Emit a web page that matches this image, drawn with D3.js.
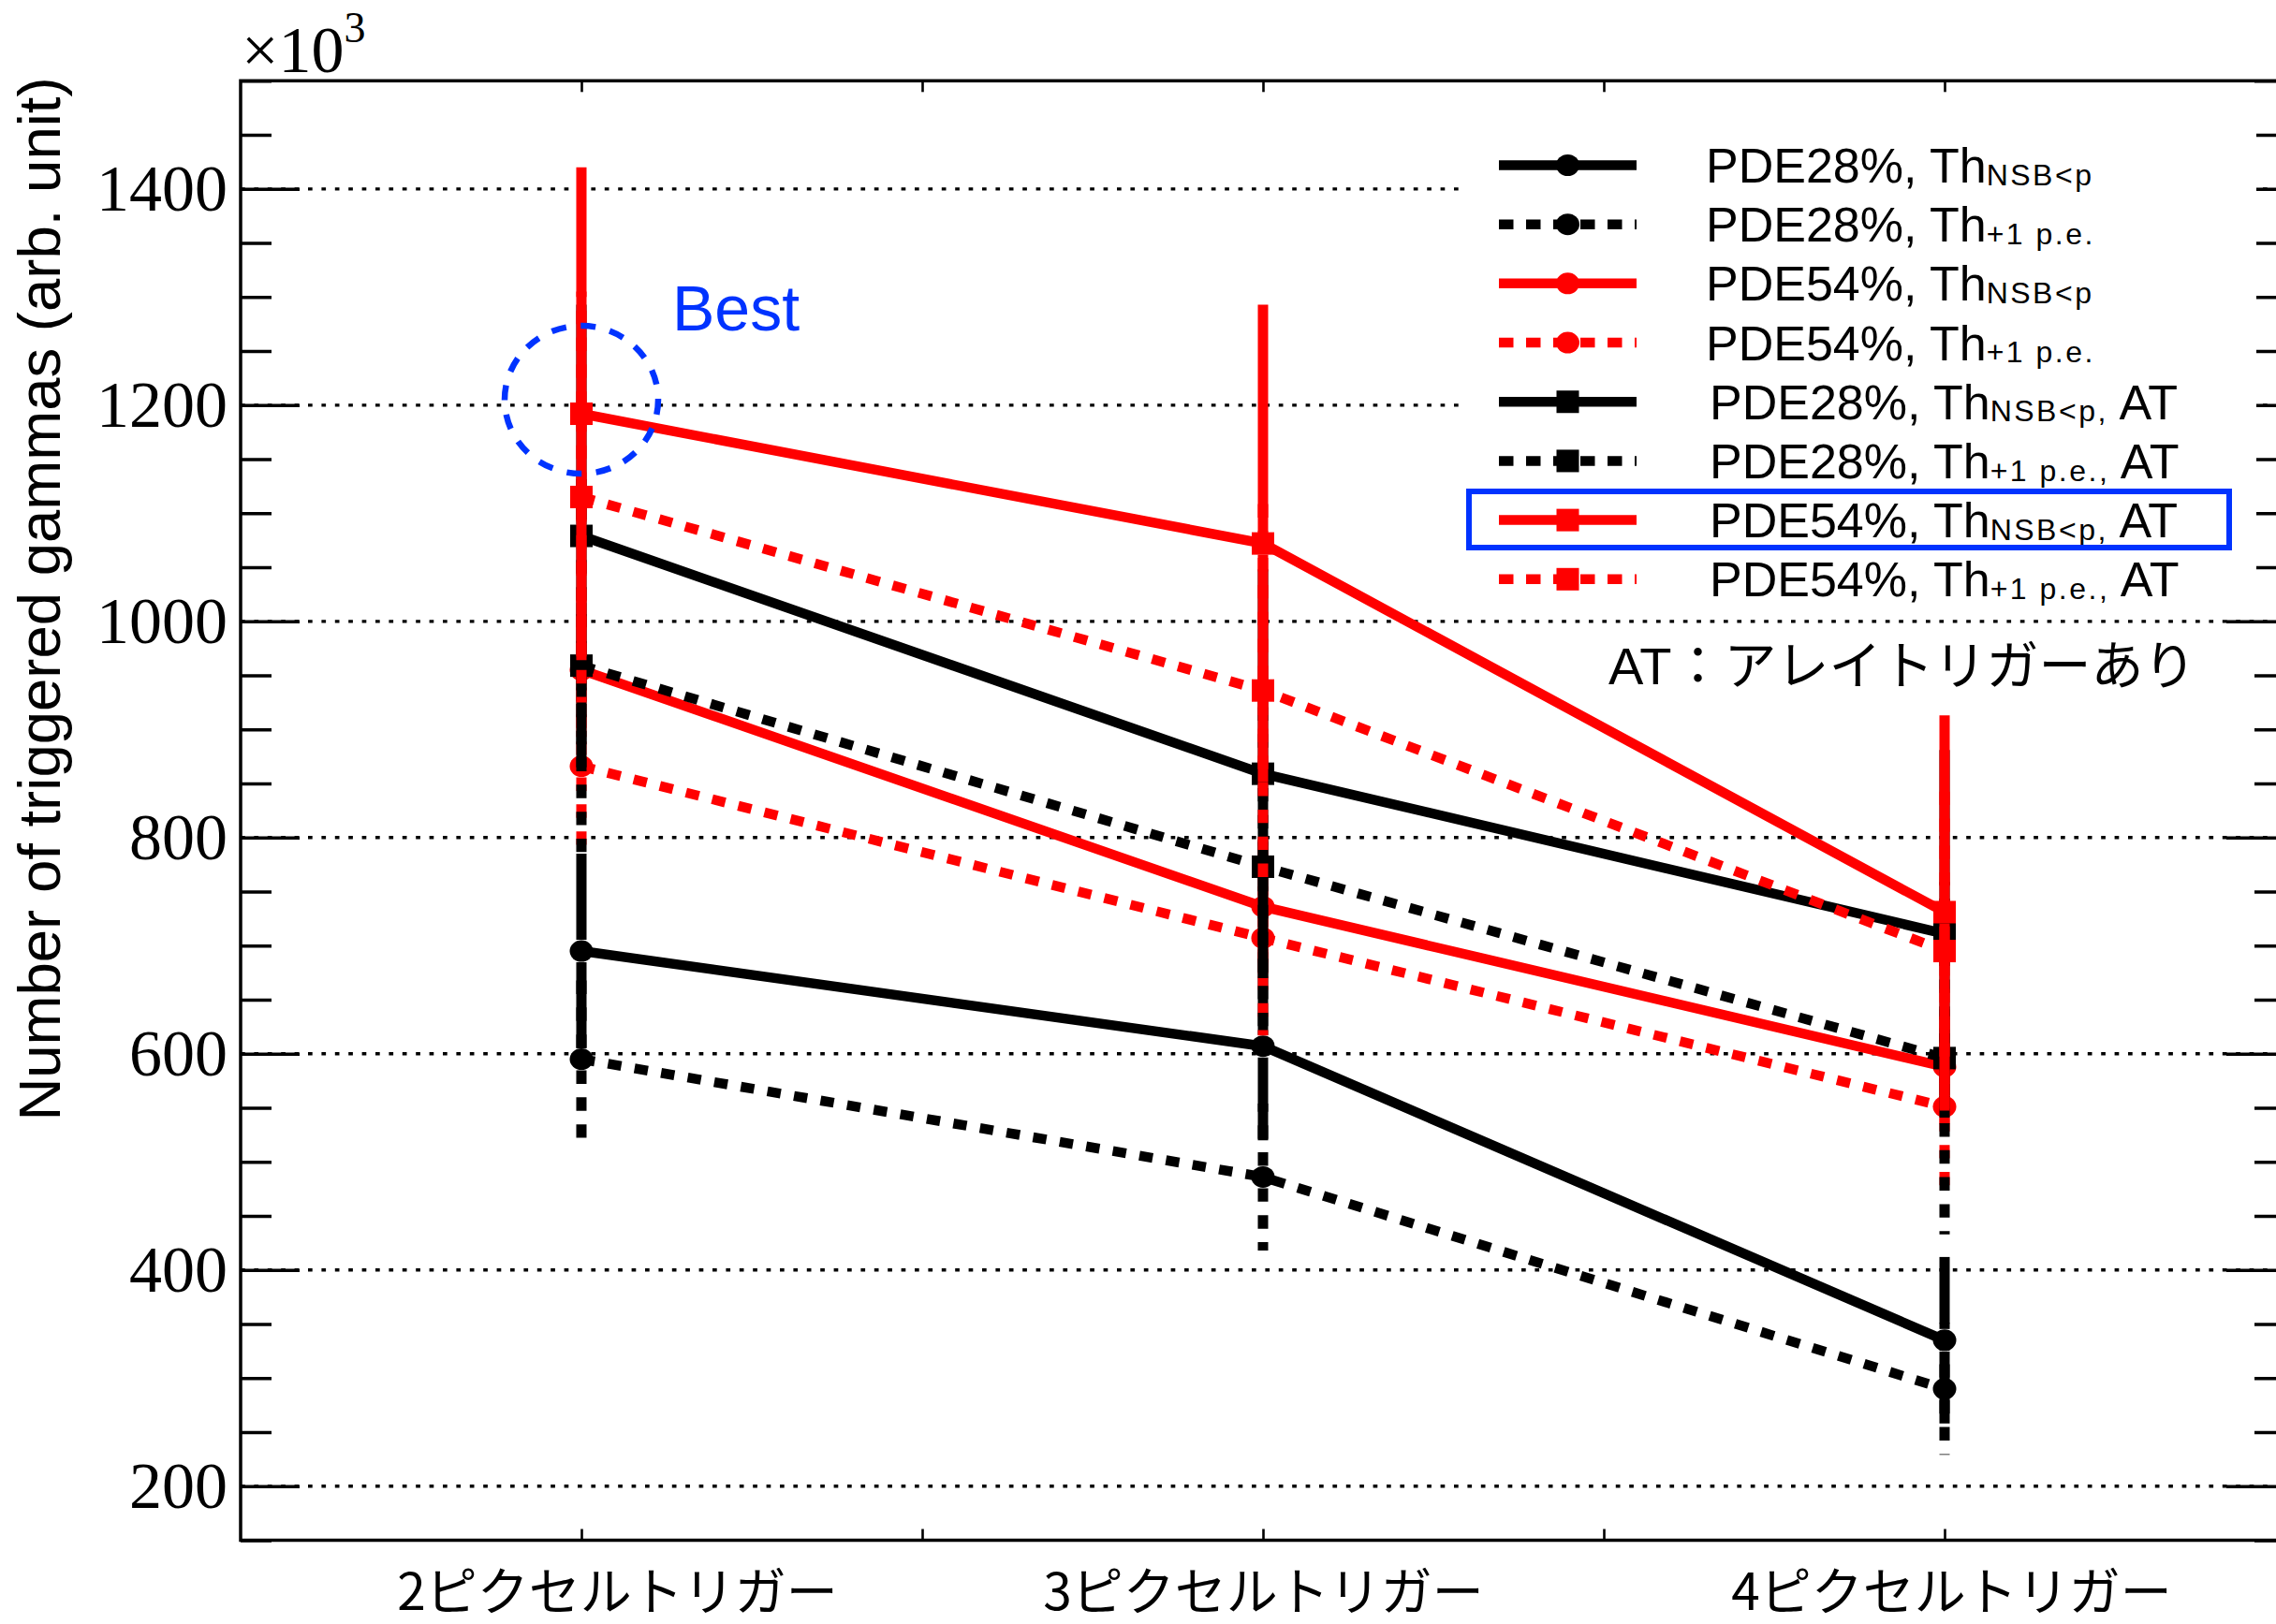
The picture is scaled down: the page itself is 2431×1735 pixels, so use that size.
<!DOCTYPE html>
<html>
<head>
<meta charset="utf-8">
<script src="https://cdn.jsdelivr.net/npm/d3@7"></script>
<style>
  html, body { margin: 0; padding: 0; background: #fff; }
  svg { display: block; }
</style>
</head>
<body>
<svg id="chart" width="2431" height="1735"></svg>
<script>
// ---- data -------------------------------------------------------------
const categories = ["2ピクセルトリガー", "3ピクセルトリガー", "4ピクセルトリガー"];
const categoryPositions = [1, 2, 3];
const xTickValues = [1, 1.5, 2, 2.5, 3];
const yMajorTicks = [200, 400, 600, 800, 1000, 1200, 1400];

// number of triggered gammas (x10^3) and symmetric errors, per trigger multiplicity
const pde28Nsb      = [695, 607, 335];
const pde28NsbErr   = [90, 87, 77];
const pde28Pe       = [595, 486, 290];
const pde28PeErr    = [85, 68, 61];
const pde54Nsb      = [955, 736, 588];
const pde54NsbErr   = [62, 62, 53];
const pde54Pe       = [866, 707, 551];
const pde54PeErr    = [81, 90, 75];
const pde28NsbAt    = [1079, 859, 711];
const pde28NsbAtErr = [214, 189, 170];
const pde28PeAt     = [959, 773, 596];
const pde28PeAtErr  = [175, 160, 163];
const pde54NsbAt    = [1192, 1072, 731];
const pde54NsbAtErr = [228, 221, 182];
const pde54PeAt     = [1115, 936, 695];
const pde54PeAtErr  = [190, 180, 160];

const legendMain = ["PDE28%, Th", "PDE28%, Th", "PDE54%, Th", "PDE54%, Th",
                    "PDE28%, Th", "PDE28%, Th", "PDE54%, Th", "PDE54%, Th"];
const legendSub  = ["NSB<p", "+1 p.e.", "NSB<p", "+1 p.e.",
                    "NSB<p,", "+1 p.e.,", "NSB<p,", "+1 p.e.,"];
const legendTail = ["", "", "", "", " AT", " AT", " AT", " AT"];

const yTitle = "Number of triggered gammas (arb. unit)";
const atNote = "AT：アレイトリガーあり";
const bestNote = "Best";

// ---- series table (drawing order = legend order) ----------------------
const RED = "#ff0000", BLACK = "#000000", BLUE = "#0033ff";
const series = [
  { values: pde28Nsb,   errors: pde28NsbErr,   color: BLACK, dashed: false, marker: "circle" },
  { values: pde28Pe,    errors: pde28PeErr,    color: BLACK, dashed: true,  marker: "circle" },
  { values: pde54Nsb,   errors: pde54NsbErr,   color: RED,   dashed: false, marker: "circle" },
  { values: pde54Pe,    errors: pde54PeErr,    color: RED,   dashed: true,  marker: "circle" },
  { values: pde28NsbAt, errors: pde28NsbAtErr, color: BLACK, dashed: false, marker: "square" },
  { values: pde28PeAt,  errors: pde28PeAtErr,  color: BLACK, dashed: true,  marker: "square" },
  { values: pde54NsbAt, errors: pde54NsbAtErr, color: RED,   dashed: false, marker: "square" },
  { values: pde54PeAt,  errors: pde54PeAtErr,  color: RED,   dashed: true,  marker: "square" }
];
series.forEach((s, i) => { s.main = legendMain[i]; s.sub = legendSub[i]; s.tail = legendTail[i]; });

// ---- layout -----------------------------------------------------------
const svg = d3.select("#chart");
const plot = { left: 257, right: 2441, top: 86.3, bottom: 1645.5 };
const x = d3.scaleLinear().domain([0.5, 3.5]).range([plot.left, plot.right]);
const y = d3.scaleLinear().domain([150, 1500]).range([plot.bottom, plot.top]);

const LINE_W = 10.5, BAR_W = 11, DASH = "14.4,14.4";
const MARK = 12;           // half size of markers
const serif = "'Liberation Serif', 'Times New Roman', serif";
const sans = "'Liberation Sans', Arial, 'Noto Sans CJK JP', sans-serif";
const jp = "'Noto Sans CJK JP', 'Liberation Sans', sans-serif";

svg.append("rect").attr("width", 2431).attr("height", 1735).attr("fill", "#fff");

// horizontal dotted grid
svg.append("g").selectAll("line").data(yMajorTicks).join("line")
  .attr("x1", plot.left).attr("x2", plot.right)
  .attr("y1", d => y(d)).attr("y2", d => y(d))
  .attr("stroke", "#000").attr("stroke-width", 3.3)
  .attr("stroke-dasharray", "4.7,9.7");

// axes ticks (inside the frame)
function styleAxis(g, width) {
  g.select(".domain").remove();
  g.selectAll(".tick line").attr("stroke", "#000").attr("stroke-width", width);
}
const yMinorTicks = d3.range(150, 1501, 50).filter(v => !yMajorTicks.includes(v));

svg.append("g").attr("transform", `translate(${plot.left},0)`)
  .call(d3.axisLeft(y).tickValues(yMajorTicks).tickSize(-63).tickPadding(14).tickFormat(d3.format("d")))
  .call(g => styleAxis(g, 3.4))
  .call(g => g.selectAll("text").attr("font-family", serif).attr("font-size", 70).attr("fill", "#000"));
svg.append("g").attr("transform", `translate(${plot.left},0)`)
  .call(d3.axisLeft(y).tickValues(yMinorTicks).tickSize(-33).tickFormat(""))
  .call(g => styleAxis(g, 3.4));
svg.append("g").attr("transform", `translate(${plot.right},0)`)
  .call(d3.axisRight(y).tickValues(yMajorTicks).tickSize(-63).tickFormat(""))
  .call(g => styleAxis(g, 3.4));
svg.append("g").attr("transform", `translate(${plot.right},0)`)
  .call(d3.axisRight(y).tickValues(yMinorTicks).tickSize(-33).tickFormat(""))
  .call(g => styleAxis(g, 3.4));

const labelNudge = [38, 0, 7];
svg.append("g").attr("transform", `translate(0,${plot.bottom})`)
  .call(d3.axisBottom(x).tickValues(xTickValues).tickSize(-12).tickPadding(35)
        .tickFormat(d => { const i = categoryPositions.indexOf(d); return i >= 0 ? categories[i] : ""; }))
  .call(g => styleAxis(g, 2.6))
  .call(g => g.selectAll("text")
      .attr("font-family", jp).attr("font-size", 55).attr("fill", "#000")
      .attr("dx", d => { const i = categoryPositions.indexOf(d); return i >= 0 ? labelNudge[i] : 0; }));
svg.append("g").attr("transform", `translate(0,${plot.top})`)
  .call(d3.axisTop(x).tickValues(xTickValues).tickSize(-12).tickFormat(""))
  .call(g => styleAxis(g, 2.6));

// legend background (covers grid and right ticks)
const legendBox = { x: 1562, y: 130, w: 848, h: 520 };
svg.append("rect").attr("x", legendBox.x).attr("y", legendBox.y)
  .attr("width", legendBox.w).attr("height", legendBox.h).attr("fill", "#fff");

// ---- series -----------------------------------------------------------
function drawMarker(g, s, cx, cy) {
  if (s.marker === "circle") {
    g.append("ellipse").attr("cx", cx).attr("cy", cy).attr("rx", 12.5).attr("ry", 11.5).attr("fill", s.color);
  } else {
    g.append("rect").attr("x", cx - MARK).attr("y", cy - MARK)
      .attr("width", 2 * MARK).attr("height", 2 * MARK).attr("fill", s.color);
  }
}

const line = d3.line().x(d => x(d.c)).y(d => y(d.v));
series.forEach(s => {
  const g = svg.append("g");
  const pts = s.values.map((v, i) => ({ c: categoryPositions[i], v, e: s.errors[i] }));
  g.append("path").datum(pts).attr("d", line)
    .attr("fill", "none").attr("stroke", s.color).attr("stroke-width", LINE_W)
    .attr("stroke-dasharray", s.dashed ? DASH : null);
  pts.forEach(p => {
    const cx = x(p.c), cy = y(p.v);
    [[cy - MARK, y(p.v + p.e)], [cy + MARK, y(p.v - p.e)]].forEach(([a, b]) => {
      g.append("line").attr("x1", cx).attr("x2", cx).attr("y1", a).attr("y2", b)
        .attr("stroke", s.color).attr("stroke-width", BAR_W)
        .attr("stroke-dasharray", s.dashed ? DASH : null);
    });
  });
  pts.forEach(p => drawMarker(g, s, x(p.c), y(p.v)));
});

// frame
svg.append("rect").attr("x", plot.left).attr("y", plot.top)
  .attr("width", plot.right - plot.left).attr("height", plot.bottom - plot.top)
  .attr("fill", "none").attr("stroke", "#000").attr("stroke-width", 3.5);

// ---- legend -----------------------------------------------------------
const rowY = d3.scaleLinear().domain([0, 7]).range([176.5, 618.8]);
const legendG = svg.append("g");
series.forEach((s, i) => {
  const ly = rowY(i);
  legendG.append("line").attr("x1", 1601).attr("x2", 1748).attr("y1", ly).attr("y2", ly)
    .attr("stroke", s.color).attr("stroke-width", LINE_W)
    .attr("stroke-dasharray", s.dashed ? "15.5,13.5" : null);
  drawMarker(legendG, s, 1674.5, ly);
  const t = legendG.append("text").attr("x", i < 4 ? 1822 : 1826).attr("y", ly + 18.6)
    .attr("font-family", sans).attr("font-size", 52).attr("fill", "#000");
  t.append("tspan").text(s.main);
  t.append("tspan").attr("font-size", 32).attr("letter-spacing", 2.5).attr("dy", 2.5).text(s.sub);
  if (s.tail) t.append("tspan").attr("dy", -2.5).text(s.tail);
});
// highlighted configuration
legendG.append("rect").attr("x", 1569).attr("y", 525).attr("width", 812).attr("height", 60)
  .attr("fill", "none").attr("stroke", BLUE).attr("stroke-width", 6);

svg.append("text").attr("x", 1718).attr("y", 731)
  .attr("font-family", sans).attr("font-size", 56).attr("fill", "#000").text(atNote);

// ---- annotations ------------------------------------------------------
svg.append("ellipse").attr("cx", x(categoryPositions[0])).attr("cy", y(pde54NsbAt[0]) - 15)
  .attr("rx", 82).attr("ry", 79).attr("fill", "none")
  .attr("stroke", BLUE).attr("stroke-width", 6.5).attr("stroke-dasharray", "16,15.5");
svg.append("text").attr("x", 718).attr("y", 353)
  .attr("font-family", sans).attr("font-size", 68).attr("fill", BLUE).text(bestNote);

// axis title and exponent
svg.append("text").attr("transform", "translate(64,640) rotate(-90)")
  .attr("text-anchor", "middle").attr("font-family", sans).attr("font-size", 63.5)
  .attr("fill", "#000").text(yTitle);
const expo = svg.append("text").attr("x", 258).attr("y", 77)
  .attr("font-family", serif).attr("font-size", 70).attr("fill", "#000");
expo.append("tspan").text("×10");
expo.append("tspan").attr("font-size", 46).attr("dy", -32).text("3");
</script>
</body>
</html>
